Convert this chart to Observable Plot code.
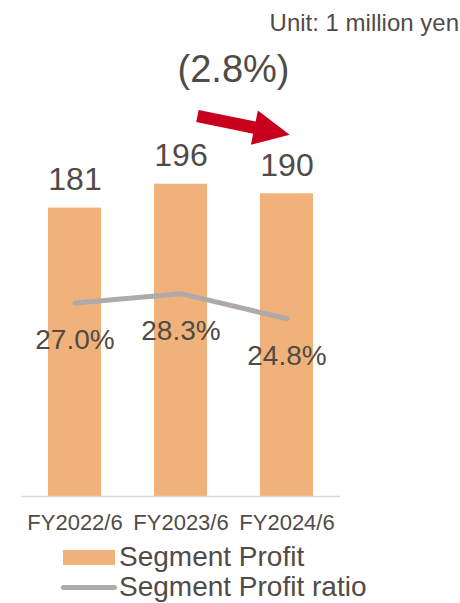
<!DOCTYPE html>
<html><head><meta charset="utf-8">
<script src="https://cdn.jsdelivr.net/npm/d3@7"></script>
<script src="https://cdn.jsdelivr.net/npm/@observablehq/plot@0.6"></script>
<style>
html,body{margin:0;padding:0;background:#fff;}
body{width:460px;height:603px;overflow:hidden;position:relative;font-family:"Liberation Sans",Arial,sans-serif;color:#514b46;}
#unit{position:absolute;right:1px;top:11px;font-size:24px;line-height:24px;white-space:nowrap;}
#legend{padding-top:2px;}
.row{display:flex;align-items:center;height:30px;}
.row span{display:block;font-size:28px;line-height:30px;height:30px;white-space:nowrap;}
.sw-bar{width:52px;height:15px;margin-left:63px;margin-right:4px;}
.sw-line{width:56px;height:5px;border-radius:2.5px;margin-left:61px;margin-right:2px;}
</style></head><body>
<div id="chart"></div>
<div id="unit"></div>
<div id="legend"></div>
<script>
// ---- data ----
const categories = ["FY2022/6", "FY2023/6", "FY2024/6"];
const profit = [181, 196, 190];
const ratio = [27.0, 28.3, 24.8];
const ratioLabels = ["27.0%", "28.3%", "24.8%"];
const changeLabel = "(2.8%)";
const unitLabel = "Unit: 1 million yen";
const seriesNames = ["Segment Profit", "Segment Profit ratio"];
const yMax = 300;          // primary axis max (million yen)
const ratioAxisMax = 66.7; // secondary axis max (%)

// ---- style ----
const barColor = "#F0B27A";
const lineColor = "#AEAAAA";
const arrowColor = "#C8001E";
const textColor = "#514B46";
const axisColor = "#D9D9D9";

const data = categories.map((cat, i) => ({cat, profit: profit[i], ratio: ratio[i], ratioLabel: ratioLabels[i]}));
const ratioY = d => d.ratio * yMax / ratioAxisMax;

function annotation(index, scales, values, dims) {
  const x = scales.x, y = scales.y;
  const bw = typeof x.bandwidth === "function" ? x.bandwidth() : (x.bandwidth || 0);
  const cx = c => x(c) + bw / 2;
  const step = x(categories[2]) - x(categories[1]);
  const g = d3.create("svg:g");
  // change label between FY2023 and FY2024
  g.append("text")
    .attr("x", (cx(categories[1]) + cx(categories[2])) / 2)
    .attr("y", y(260))
    .attr("text-anchor", "middle")
    .attr("font-size", 38)
    .attr("fill", textColor)
    .text(changeLabel);
  // block arrow
  const T = [cx(categories[1]) + 0.16 * step, y(238.5)];
  const P = [cx(categories[2]) + 0.03 * step, y(226.7)];
  const dx = P[0] - T[0], dy = P[1] - T[1], L = Math.hypot(dx, dy);
  const u = [dx / L, dy / L], n = [-u[1], u[0]];
  const headLen = 36, bh = 6.2, hh = 17.5;
  const B = [P[0] - u[0] * headLen, P[1] - u[1] * headLen];
  const pt = (p, s) => [p[0] + n[0] * s, p[1] + n[1] * s];
  const pts = [pt(T, -bh), pt(B, -bh), pt(B, -hh), P, pt(B, hh), pt(B, bh), pt(T, bh)];
  g.append("polygon").attr("points", pts.map(p => p.join(",")).join(" ")).attr("fill", arrowColor);
  return g.node();
}

const chart = Plot.plot({
  width: 460,
  height: 540,
  marginLeft: 21,
  marginRight: 120,
  marginTop: 18,
  marginBottom: 44,
  style: {fontFamily: '"Liberation Sans", Arial, sans-serif', color: textColor, background: "transparent", overflow: "visible"},
  x: {type: "band", domain: categories, paddingInner: 0.5, paddingOuter: 0.25},
  y: {domain: [0, yMax], axis: null},
  marks: [
    Plot.barY(data, {x: "cat", y: "profit", fill: barColor}),
    Plot.ruleY([0], {stroke: axisColor, strokeWidth: 1.5}),
    Plot.lineY(data, {x: "cat", y: ratioY, stroke: lineColor, strokeWidth: 5, strokeLinecap: "round", strokeLinejoin: "round"}),
    Plot.text(data, {x: "cat", y: "profit", text: d => String(d.profit), lineAnchor: "bottom", dy: -18, fontSize: 32, fill: textColor}),
    Plot.text(data, {x: "cat", y: ratioY, text: "ratioLabel", lineAnchor: "bottom", dy: 46, fontSize: 28, fill: textColor}),
    Plot.axisX({tickSize: 0, tickPadding: 18, fontSize: 22, label: null, fill: textColor}),
    annotation
  ]
});
document.getElementById("chart").appendChild(chart);
document.getElementById("unit").textContent = unitLabel;

const legend = document.getElementById("legend");
seriesNames.forEach((name, i) => {
  const row = document.createElement("div");
  row.className = "row";
  const sw = document.createElement("div");
  sw.className = i === 0 ? "sw-bar" : "sw-line";
  sw.style.background = i === 0 ? barColor : lineColor;
  const label = document.createElement("span");
  label.textContent = name;
  row.appendChild(sw);
  row.appendChild(label);
  legend.appendChild(row);
});
</script>
</body></html>
